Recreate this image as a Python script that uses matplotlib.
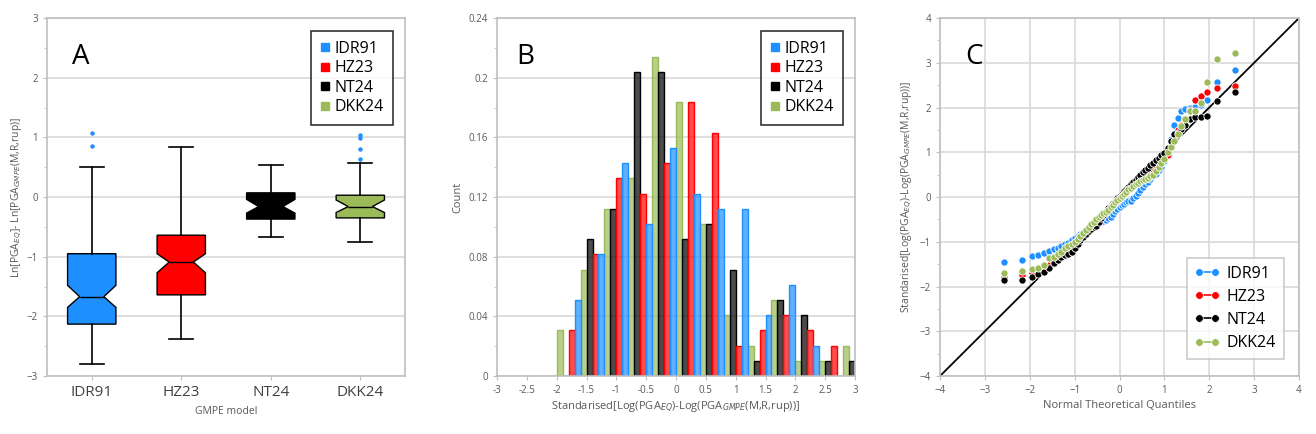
import matplotlib
matplotlib.use("Agg")
from matplotlib import pyplot as plt
from matplotlib.lines import Line2D
from matplotlib.colors import to_rgba

plt.rcParams['font.family'] = ['Open Sans', 'DejaVu Sans']
plt.rcParams['mathtext.fontset'] = 'dejavusans'

modelos = ["IDR91", "HZ23", "NT24", "DKK24"]
colores = {"IDR91": "#1E8FFF", "HZ23": "#FF0000", "NT24": "#000000", "DKK24": "#9BBB59"}

# ---- panel A: box plots
whislo = [-2.80, -2.38, -0.67, -0.75]
q1 = [-2.13, -1.64, -0.37, -0.35]
mediana = [-1.67, -1.09, -0.16, -0.16]
q3 = [-0.95, -0.64, 0.07, 0.03]
whishi = [0.50, 0.84, 0.54, 0.57]
notch_lo = [-1.85, -1.27, -0.27, -0.26]
notch_hi = [-1.48, -0.95, -0.04, -0.05]
atipicos = [[0.85, 1.08], [], [], [0.64, 0.81, 0.99, 1.04]]

# ---- panel B: histogram fractions per bin (bins 0.4 wide starting at -2.0)
bordes = [-2.0, -1.6, -1.2, -0.8, -0.4, 0.0, 0.4, 0.8, 1.2, 1.6, 2.0, 2.4, 2.8]
hist_dkk24 = [0.031, 0.071, 0.112, 0.133, 0.214, 0.184, 0.102, 0.041, 0.020, 0.051, 0.010, 0.010, 0.020]
hist_nt24 = [0.0, 0.092, 0.112, 0.204, 0.204, 0.092, 0.102, 0.071, 0.010, 0.051, 0.041, 0.010, 0.010]
hist_hz23 = [0.031, 0.082, 0.133, 0.122, 0.143, 0.184, 0.163, 0.020, 0.031, 0.041, 0.031, 0.020, 0.0]
hist_idr91 = [0.051, 0.082, 0.143, 0.102, 0.153, 0.122, 0.112, 0.112, 0.041, 0.061, 0.020, 0.0, 0.0]

# ---- panel C: QQ points
qx = [-2.57, -2.17, -1.96, -1.81, -1.68, -1.57, -1.47, -1.38, -1.30, -1.22, -1.14, -1.07,
      -1.00, -0.93, -0.87, -0.81, -0.75, -0.69, -0.63, -0.57, -0.52, -0.46, -0.41, -0.36,
      -0.30, -0.25, -0.20, -0.15, -0.10, -0.05, 0.00, 0.05, 0.10, 0.15, 0.20, 0.25, 0.30,
      0.36, 0.41, 0.46, 0.52, 0.57, 0.63, 0.69, 0.75, 0.81, 0.87, 0.93, 1.00, 1.07, 1.14,
      1.22, 1.30, 1.38, 1.47, 1.57, 1.68, 1.81, 1.96, 2.17, 2.57]
qq_idr91 = [-1.45, -1.41, -1.32, -1.29, -1.24, -1.21, -1.17, -1.13, -1.09, -1.05, -1.02, -0.97,
            -0.91, -0.87, -0.83, -0.79, -0.75, -0.71, -0.67, -0.64, -0.61, -0.58, -0.56, -0.53,
            -0.51, -0.48, -0.45, -0.38, -0.32, -0.27, -0.22, -0.18, -0.15, -0.12, -0.10, -0.08,
            -0.03, 0.03, 0.10, 0.15, 0.22, 0.28, 0.34, 0.40, 0.46, 0.52, 0.60, 0.68, 0.80, 1.00,
            1.30, 1.62, 1.76, 1.93, 1.96, 2.00, 2.02, 2.05, 2.17, 2.58, 2.84]
qq_hz23 = [-1.78, -1.74, -1.70, -1.66, -1.60, -1.53, -1.45, -1.38, -1.31, -1.24, -1.17, -1.10,
           -1.03, -0.96, -0.89, -0.83, -0.77, -0.71, -0.65, -0.59, -0.54, -0.48, -0.43, -0.38,
           -0.33, -0.28, -0.23, -0.18, -0.13, -0.08, -0.03, 0.02, 0.07, 0.12, 0.17, 0.22, 0.27,
           0.32, 0.37, 0.42, 0.47, 0.52, 0.57, 0.62, 0.67, 0.72, 0.76, 0.80, 0.85, 0.95, 1.15,
           1.35, 1.50, 1.60, 1.75, 1.95, 2.17, 2.25, 2.35, 2.43, 2.47]
qq_nt24 = [-1.86, -1.86, -1.78, -1.73, -1.67, -1.58, -1.47, -1.40, -1.34, -1.30, -1.27, -1.22,
           -1.13, -1.04, -0.96, -0.90, -0.83, -0.77, -0.71, -0.68, -0.65, -0.56, -0.48, -0.40,
           -0.31, -0.25, -0.19, -0.13, -0.08, -0.03, 0.02, 0.07, 0.13, 0.18, 0.23, 0.28, 0.33,
           0.39, 0.45, 0.50, 0.55, 0.60, 0.65, 0.71, 0.77, 0.82, 0.87, 0.93, 0.98, 1.10, 1.25,
           1.40, 1.44, 1.52, 1.62, 1.74, 1.78, 1.78, 1.80, 2.14, 2.35]
qq_dkk24 = [-1.70, -1.65, -1.60, -1.58, -1.52, -1.37, -1.33, -1.28, -1.22, -1.15, -1.10, -1.05,
            -1.00, -0.93, -0.86, -0.80, -0.73, -0.67, -0.61, -0.55, -0.50, -0.45, -0.40, -0.36,
            -0.33, -0.28, -0.22, -0.17, -0.12, -0.06, -0.02, 0.02, 0.07, 0.12, 0.17, 0.21, 0.25,
            0.29, 0.32, 0.35, 0.38, 0.40, 0.43, 0.46, 0.50, 0.58, 0.68, 0.77, 0.86, 1.00, 1.12,
            1.26, 1.41, 1.58, 1.74, 1.92, 1.93, 2.10, 2.58, 3.08, 3.21]

gris_txt = "#595959"
gris_grid = "#D9D9D9"
gris_eje = "#BFBFBF"


def estilo(ax):
    for s in ax.spines.values():
        s.set_color(gris_eje)
        s.set_linewidth(1.2)
    ax.tick_params(which="both", colors=gris_eje, labelcolor=gris_txt, labelsize=7, length=3)
    ax.tick_params(which="minor", length=2)
    ax.set_axisbelow(True)


fig = plt.figure(figsize=(13.16, 4.34), dpi=100)
axA = fig.add_axes([0.0357, 0.1336, 0.2721, 0.8249])
axB = fig.add_axes([0.3777, 0.1336, 0.2720, 0.8249])
axC = fig.add_axes([0.7143, 0.1336, 0.2728, 0.8249])

# ---------------- A
stats = []
for i, m in enumerate(modelos):
    stats.append(dict(med=mediana[i], q1=q1[i], q3=q3[i], whislo=whislo[i], whishi=whishi[i],
                      cilo=notch_lo[i], cihi=notch_hi[i], fliers=atipicos[i], label=m))
cajas = axA.bxp(stats, positions=[1, 2, 3, 4], widths=0.54, shownotches=True, patch_artist=True,
                showfliers=True, capwidths=0.27,
                boxprops=dict(edgecolor="black", linewidth=1.0),
                whiskerprops=dict(color="black", linewidth=1.2),
                capprops=dict(color="black", linewidth=1.2),
                medianprops=dict(color="black", linewidth=1.0),
                flierprops=dict(marker="o", markersize=3.2, markerfacecolor=colores["IDR91"],
                                markeredgecolor="none"))
for caja, m in zip(cajas["boxes"], modelos):
    caja.set_facecolor(colores[m])
axA.set_xlim(0.5, 4.5)
axA.set_ylim(-3, 3)
axA.set_yticks(range(-3, 4))
axA.set_yticks([-2.5, -1.5, -0.5, 0.5, 1.5, 2.5], minor=True)
axA.grid(axis="y", color=gris_grid, linewidth=1.2)
estilo(axA)
axA.tick_params(axis="x", labelsize=11, labelcolor="#404040")
axA.set_xlabel("GMPE model", fontsize=7.5, color=gris_txt, labelpad=4)
axA.set_ylabel(r"Ln[PGA$_{EQ}$]- Ln[PGA$_{GMPE}$(M,R,rup)]", fontsize=7.5, color=gris_txt,
               labelpad=2)
axA.text(0.07, 0.93, "A", transform=axA.transAxes, fontsize=20, va="top")
manejadores = [Line2D([], [], marker="s", ls="none", color=colores[m], markersize=6) for m in modelos]
legA = axA.legend(manejadores, modelos, loc="upper right", fontsize=11.5, fancybox=False,
                  handlelength=0.6, handletextpad=0.3, labelspacing=0.22, borderpad=0.6,
                  bbox_to_anchor=(0.99, 0.985))
legA.get_frame().set_edgecolor("black")
legA.get_frame().set_linewidth(1.2)

# ---------------- B
series_hist = [("DKK24", hist_dkk24), ("NT24", hist_nt24), ("HZ23", hist_hz23), ("IDR91", hist_idr91)]
for j, (m, valores) in enumerate(series_hist):
    xs = [b + 0.1 * j for b in bordes]
    axB.bar(xs, valores, width=0.1, align="edge", facecolor=to_rgba(colores[m], 0.7),
            edgecolor=colores[m], linewidth=1.0)
axB.set_xlim(-3, 3)
axB.set_ylim(0, 0.24)
axB.set_xticks([-3 + 0.5 * i for i in range(13)])
axB.set_xticklabels(["-3", "-2.5", "-2", "-1.5", "-1", "-0.5", "0", "0.5", "1", "1.5", "2", "2.5", "3"])
axB.set_yticks([0, 0.04, 0.08, 0.12, 0.16, 0.2, 0.24])
axB.set_yticklabels(["0", "0.04", "0.08", "0.12", "0.16", "0.2", "0.24"])
axB.set_yticks([0.02, 0.06, 0.10, 0.14, 0.18, 0.22], minor=True)
axB.grid(axis="y", color=gris_grid, linewidth=1.2)
estilo(axB)
axB.set_xlabel(r"Standarised[Log(PGA$_{EQ}$)-Log(PGA$_{GMPE}$(M,R,rup))]", fontsize=8,
               color=gris_txt, labelpad=2)
axB.set_ylabel("Count", fontsize=8, color=gris_txt)
axB.text(0.055, 0.93, "B", transform=axB.transAxes, fontsize=20, va="top")
legB = axB.legend(manejadores, modelos, loc="upper right", fontsize=11.5, fancybox=False,
                  handlelength=0.6, handletextpad=0.3, labelspacing=0.22, borderpad=0.6,
                  bbox_to_anchor=(0.99, 0.985))
legB.get_frame().set_edgecolor("black")
legB.get_frame().set_linewidth(1.2)

# ---------------- C
axC.plot([-4, 4], [-4, 4], color="black", linewidth=1.3, zorder=2)
series_qq = [("IDR91", qq_idr91), ("HZ23", qq_hz23), ("NT24", qq_nt24), ("DKK24", qq_dkk24)]
for m, valores in series_qq:
    axC.plot(qx, valores, ls="none", marker="o", markersize=5.2, color=colores[m],
             markeredgecolor="white", markeredgewidth=0.6, zorder=3)
axC.set_xlim(-4, 4)
axC.set_ylim(-4, 4)
axC.set_xticks(range(-4, 5))
axC.set_yticks(range(-4, 5))
axC.set_yticks([-3.5, -2.5, -1.5, -0.5, 0.5, 1.5, 2.5, 3.5], minor=True)
axC.grid(color=gris_grid, linewidth=1.2)
estilo(axC)
axC.set_xlabel("Normal Theoretical Quantiles", fontsize=8, color=gris_txt, labelpad=3)
axC.set_ylabel(r"Standarised[Log(PGA$_{EQ}$)-Log(PGA$_{GMPE}$(M,R,rup))]", fontsize=7.5,
               color=gris_txt)
axC.text(0.07, 0.93, "C", transform=axC.transAxes, fontsize=20, va="top")
manejadoresC = [Line2D([], [], marker="o", ls="-", lw=1.2, color=colores[m], markersize=5.5,
                       markeredgecolor="white", markeredgewidth=0.5) for m in modelos]
legC = axC.legend(manejadoresC, modelos, loc="lower right", fontsize=11.5, fancybox=False,
                  numpoints=2, handlelength=1.6, handletextpad=0.4, labelspacing=0.45,
                  borderpad=0.5, bbox_to_anchor=(0.98, 0.025))
legC.get_frame().set_edgecolor(gris_eje)
legC.get_frame().set_linewidth(1.2)

fig.savefig("out.png", dpi=100)
